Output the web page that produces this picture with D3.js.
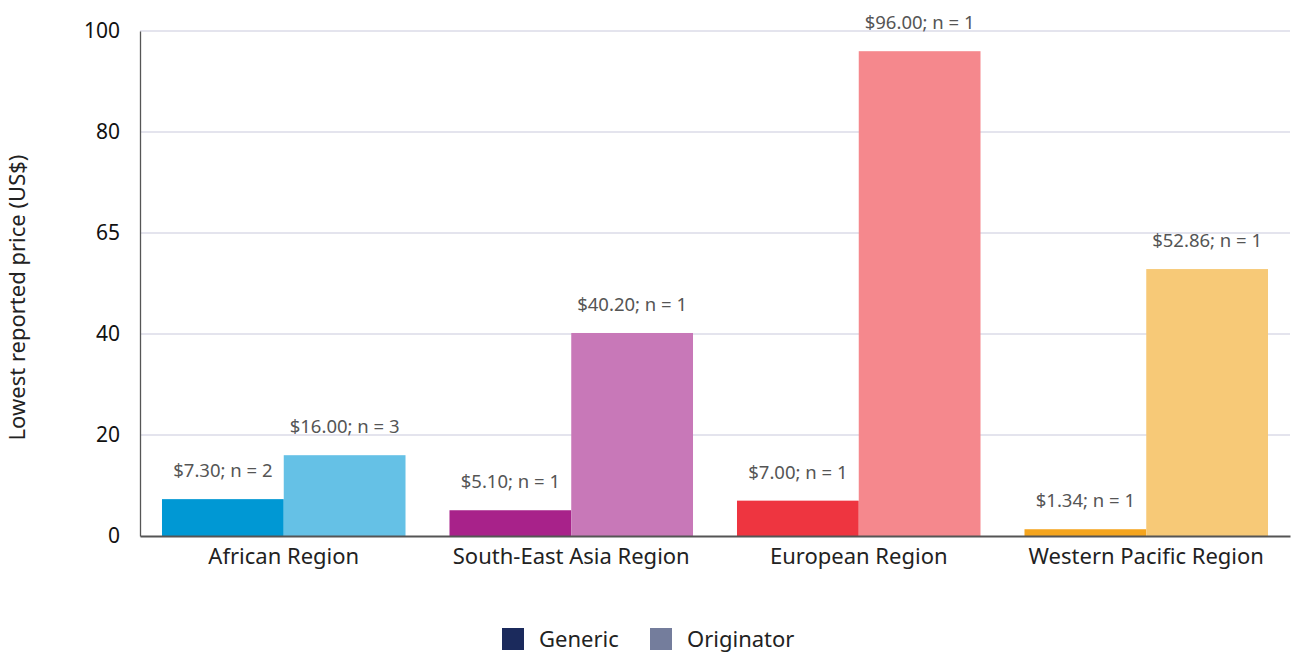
<!DOCTYPE html>
<html>
<head>
<meta charset="utf-8">
<script src="https://cdn.jsdelivr.net/npm/d3@7/dist/d3.min.js"></script>
<style>
  html, body { margin: 0; padding: 0; background: #fff; }
  svg { display: block; font-family: "Noto Sans", sans-serif; }
</style>
</head>
<body>
<svg id="chart" width="1298" height="653"></svg>
<script>
const categories = ["African Region", "South-East Asia Region", "European Region", "Western Pacific Region"];
const genericValues = [7.30, 5.10, 7.00, 1.34];
const genericN = [2, 1, 1, 1];
const originatorValues = [16.00, 40.20, 96.00, 52.86];
const originatorN = [3, 1, 1, 1];
const genericColors = ["#0098d4", "#a8228a", "#ee3540", "#f5a51e"];
const originatorColors = ["#65c1e6", "#c878b8", "#f5888d", "#f7c977"];
const tickValues = [0, 20, 40, 60, 80, 100];
const tickLabels = ["0", "20", "40", "65", "80", "100"];
const seriesNames = ["Generic", "Originator"];
const legendColors = ["#1b2a5c", "#747d9c"];
const yTitle = "Lowest reported price (US$)";

(function () {
const FONT = "'Noto Sans', sans-serif";
const svg = d3.select("#chart");
const mLeft = 140, mRight = 1290, mTop = 31, mBottom = 536;

const x = d3.scaleBand().domain(categories).range([mLeft, mRight]).paddingInner(0.153).paddingOuter(0.0765);
const sub = d3.scaleBand().domain(seriesNames).range([0, x.bandwidth()]);
const y = d3.scaleLinear().domain([0, 100]).range([mBottom, mTop]);

// gridlines
svg.append("g").selectAll("line").data(tickValues.filter(d => d > 0)).join("line")
  .attr("x1", mLeft).attr("x2", mRight)
  .attr("y1", d => y(d)).attr("y2", d => y(d))
  .attr("stroke", "#c9c9dc").attr("stroke-width", 1);

// y axis
const yAxis = d3.axisLeft(y).tickValues(tickValues).tickSize(0).tickPadding(20)
  .tickFormat((d, i) => tickLabels[i]);
const yg = svg.append("g").attr("transform", `translate(${mLeft},0)`).call(yAxis);
yg.select(".domain").attr("stroke", "#555").attr("stroke-width", 1.3);
yg.selectAll("text").attr("font-size", 21).attr("fill", "#111").attr("font-family", FONT);

// bars
const rows = categories.map((c, i) => ({
  c,
  items: [
    {s: "Generic", v: genericValues[i], n: genericN[i], color: genericColors[i]},
    {s: "Originator", v: originatorValues[i], n: originatorN[i], color: originatorColors[i]}
  ]
}));
const groups = svg.append("g").selectAll("g").data(rows).join("g")
  .attr("transform", d => `translate(${x(d.c)},0)`);
groups.selectAll("rect").data(d => d.items).join("rect")
  .attr("x", d => sub(d.s)).attr("width", sub.bandwidth())
  .attr("y", d => y(d.v)).attr("height", d => y(0) - y(d.v))
  .attr("fill", d => d.color);
groups.selectAll("text").data(d => d.items).join("text")
  .attr("x", d => sub(d.s) + sub.bandwidth() / 2)
  .attr("y", d => y(d.v) - 22)
  .attr("text-anchor", "middle")
  .attr("font-size", 18.5).attr("fill", "#555")
  .text(d => `$${d.v.toFixed(2)}; n = ${d.n}`);

// x axis
const xAxis = d3.axisBottom(x).tickSize(0).tickPadding(12);
const xg = svg.append("g").attr("transform", `translate(0,${mBottom})`).call(xAxis);
xg.select(".domain").attr("stroke", "#555").attr("stroke-width", 2);
xg.selectAll("text").attr("font-size", 22).attr("fill", "#222").attr("font-family", FONT);

// y title
svg.append("text")
  .attr("transform", `translate(25,${(mTop + mBottom) / 2 + 14}) rotate(-90)`)
  .attr("text-anchor", "middle").attr("font-size", 22).attr("fill", "#222")
  .text(yTitle);

// legend
const legend = svg.append("g");
const lx = [502, 650];
seriesNames.forEach((s, i) => {
  legend.append("rect").attr("x", lx[i]).attr("y", 628).attr("width", 22).attr("height", 22).attr("fill", legendColors[i]);
  legend.append("text").attr("x", lx[i] + 37).attr("y", 647).attr("font-size", 22).attr("fill", "#222").text(s);
});
})();
</script>
</body>
</html>
